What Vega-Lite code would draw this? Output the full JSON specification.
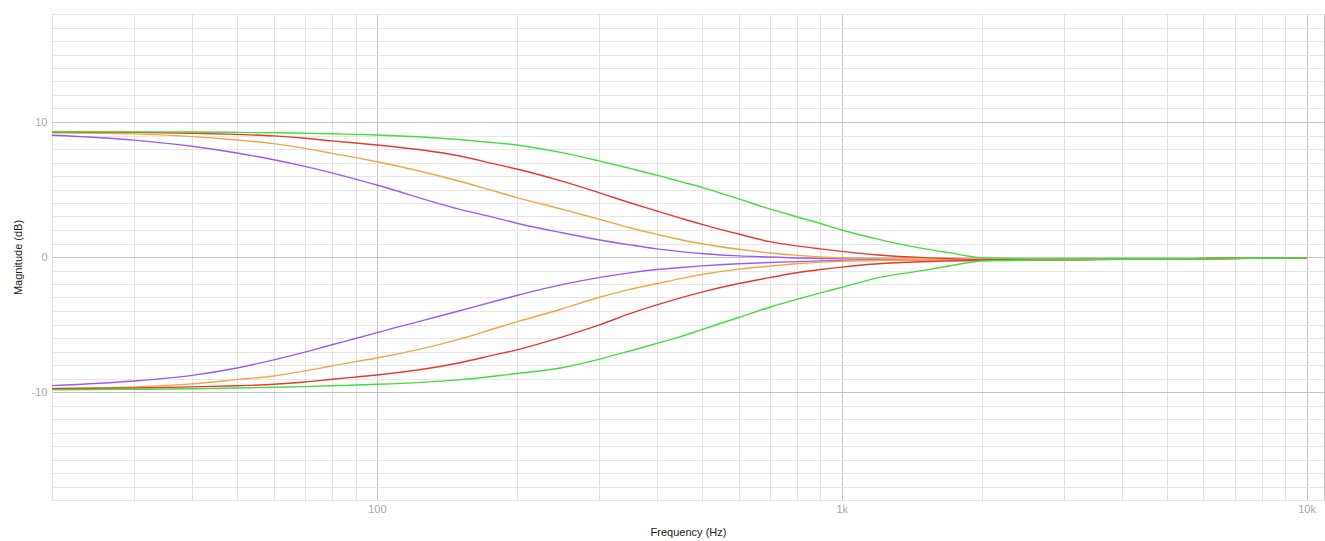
{
  "$schema": "https://vega.github.io/schema/vega-lite/v6.json",
  "width": 1272,
  "height": 486,
  "autosize": {"type": "none"},
  "padding": {"left": 52, "top": 14, "right": 1, "bottom": 41},
  "background": "white",
  "config": {
    "view": {"stroke": "#c4c4c4", "strokeWidth": 1},
    "font": "Liberation Sans"
  },
  "data": {
    "values": [
      {"f": 20, "pB": 9.02, "pC": -9.53, "oB": 9.2, "oC": -9.73, "rB": 9.26, "rC": -9.75, "gB": 9.28, "gC": -9.83},
      {"f": 30, "pB": 8.66, "pC": -9.19, "oB": 9.12, "oC": -9.62, "rB": 9.23, "rC": -9.7, "gB": 9.27, "gC": -9.8},
      {"f": 40, "pB": 8.2, "pC": -8.77, "oB": 8.92, "oC": -9.4, "rB": 9.17, "rC": -9.62, "gB": 9.26, "gC": -9.76},
      {"f": 50, "pB": 7.7, "pC": -8.22, "oB": 8.67, "oC": -9.08, "rB": 9.08, "rC": -9.54, "gB": 9.23, "gC": -9.7},
      {"f": 60, "pB": 7.2, "pC": -7.62, "oB": 8.4, "oC": -8.81, "rB": 8.97, "rC": -9.43, "gB": 9.2, "gC": -9.65},
      {"f": 70, "pB": 6.71, "pC": -7.05, "oB": 8.05, "oC": -8.44, "rB": 8.8, "rC": -9.26, "gB": 9.17, "gC": -9.6},
      {"f": 80, "pB": 6.23, "pC": -6.5, "oB": 7.68, "oC": -8.07, "rB": 8.6, "rC": -9.06, "gB": 9.13, "gC": -9.54},
      {"f": 90, "pB": 5.77, "pC": -6.04, "oB": 7.36, "oC": -7.75, "rB": 8.44, "rC": -8.89, "gB": 9.08, "gC": -9.48},
      {"f": 100, "pB": 5.33, "pC": -5.6, "oB": 7.06, "oC": -7.48, "rB": 8.3, "rC": -8.74, "gB": 9.04, "gC": -9.43},
      {"f": 150, "pB": 3.55, "pC": -4.0, "oB": 5.63, "oC": -6.1, "rB": 7.5, "rC": -7.85, "gB": 8.7, "gC": -9.1},
      {"f": 180, "pB": 2.9, "pC": -3.26, "oB": 4.85, "oC": -5.28, "rB": 6.88, "rC": -7.23, "gB": 8.45, "gC": -8.82},
      {"f": 200, "pB": 2.5, "pC": -2.85, "oB": 4.4, "oC": -4.8, "rB": 6.52, "rC": -6.88, "gB": 8.3, "gC": -8.63},
      {"f": 250, "pB": 1.8, "pC": -2.05, "oB": 3.55, "oC": -3.85, "rB": 5.62, "rC": -5.93, "gB": 7.73, "gC": -8.2},
      {"f": 300, "pB": 1.28, "pC": -1.53, "oB": 2.8, "oC": -3.0, "rB": 4.77, "rC": -5.05, "gB": 7.12, "gC": -7.58},
      {"f": 350, "pB": 0.9, "pC": -1.18, "oB": 2.17, "oC": -2.4, "rB": 4.02, "rC": -4.2, "gB": 6.56, "gC": -6.96},
      {"f": 400, "pB": 0.6, "pC": -0.93, "oB": 1.68, "oC": -1.98, "rB": 3.41, "rC": -3.55, "gB": 6.06, "gC": -6.4},
      {"f": 450, "pB": 0.4, "pC": -0.78, "oB": 1.28, "oC": -1.6, "rB": 2.88, "rC": -3.03, "gB": 5.58, "gC": -5.9},
      {"f": 500, "pB": 0.26, "pC": -0.66, "oB": 0.98, "oC": -1.3, "rB": 2.42, "rC": -2.6, "gB": 5.16, "gC": -5.38},
      {"f": 600, "pB": 0.08, "pC": -0.5, "oB": 0.57, "oC": -0.9, "rB": 1.7, "rC": -1.96, "gB": 4.3, "gC": -4.48},
      {"f": 700, "pB": 0.0, "pC": -0.41, "oB": 0.3, "oC": -0.68, "rB": 1.14, "rC": -1.53, "gB": 3.56, "gC": -3.72},
      {"f": 800, "pB": -0.07, "pC": -0.34, "oB": 0.12, "oC": -0.5, "rB": 0.82, "rC": -1.17, "gB": 2.98, "gC": -3.14},
      {"f": 900, "pB": -0.11, "pC": -0.29, "oB": 0.01, "oC": -0.38, "rB": 0.6, "rC": -0.93, "gB": 2.48, "gC": -2.66},
      {"f": 1000, "pB": -0.14, "pC": -0.26, "oB": -0.05, "oC": -0.31, "rB": 0.42, "rC": -0.75, "gB": 2.0, "gC": -2.25},
      {"f": 1200, "pB": -0.17, "pC": -0.23, "oB": -0.12, "oC": -0.25, "rB": 0.15, "rC": -0.5, "gB": 1.31, "gC": -1.53},
      {"f": 1500, "pB": -0.19, "pC": -0.22, "oB": -0.17, "oC": -0.22, "rB": -0.05, "rC": -0.35, "gB": 0.62, "gC": -0.99},
      {"f": 1700, "pB": -0.2, "pC": -0.21, "oB": -0.19, "oC": -0.21, "rB": -0.12, "rC": -0.3, "gB": 0.32, "gC": -0.67},
      {"f": 2000, "pB": -0.2, "pC": -0.2, "oB": -0.2, "oC": -0.2, "rB": -0.17, "rC": -0.25, "gB": -0.05, "gC": -0.3},
      {"f": 3000, "pB": -0.18, "pC": -0.18, "oB": -0.18, "oC": -0.18, "rB": -0.18, "rC": -0.2, "gB": -0.16, "gC": -0.2},
      {"f": 5000, "pB": -0.15, "pC": -0.15, "oB": -0.15, "oC": -0.15, "rB": -0.15, "rC": -0.15, "gB": -0.15, "gC": -0.15},
      {"f": 10000, "pB": -0.05, "pC": -0.05, "oB": -0.05, "oC": -0.05, "rB": -0.05, "rC": -0.05, "gB": -0.05, "gC": -0.05}
    ]
  },
  "transform": [
    {"fold": ["pB", "pC", "oB", "oC", "rB", "rC", "gB", "gC"], "as": ["curve", "db"]}
  ],
  "mark": {"type": "line", "strokeWidth": 1.4, "interpolate": "monotone"},
  "encoding": {
    "x": {
      "field": "f",
      "type": "quantitative",
      "scale": {"type": "log", "domain": [20, 10900], "nice": false},
      "axis": {
        "values": [20, 30, 40, 50, 60, 70, 80, 90, 100, 200, 300, 400, 500, 600, 700, 800, 900, 1000, 2000, 3000, 4000, 5000, 6000, 7000, 8000, 9000, 10000],
        "labelExpr": "datum.value == 100 ? '100' : datum.value == 1000 ? '1k' : datum.value == 10000 ? '10k' : ''",
        "labelOverlap": false,
        "labelBound": false,
        "labelFlush": false,
        "ticks": false,
        "domain": false,
        "labelColor": "#a8a8a8",
        "labelFontSize": 11,
        "labelPadding": 3,
        "gridColor": {"condition": {"test": "datum.value == 100 || datum.value == 1000 || datum.value == 10000", "value": "#c4c4c4"}, "value": "#e2e2e2"},
        "gridWidth": 1,
        "title": "Frequency (Hz)",
        "titleFontSize": 11,
        "titleFontWeight": "normal",
        "titleColor": "#222222",
        "titlePadding": 12
      }
    },
    "y": {
      "field": "db",
      "type": "quantitative",
      "scale": {"domain": [-18, 18], "nice": false, "zero": false},
      "axis": {
        "values": [-18, -17, -16, -15, -14, -13, -12, -11, -10, -9, -8, -7, -6, -5, -4, -3, -2, -1, 0, 1, 2, 3, 4, 5, 6, 7, 8, 9, 10, 11, 12, 13, 14, 15, 16, 17, 18],
        "labelExpr": "datum.value == 10 ? '10' : datum.value == 0 ? '0' : datum.value == -10 ? '-10' : ''",
        "labelOverlap": false,
        "labelBound": false,
        "labelFlush": false,
        "ticks": false,
        "domain": false,
        "labelColor": "#a8a8a8",
        "labelFontSize": 11,
        "labelPadding": 5,
        "gridColor": {"condition": {"test": "datum.value == 10 || datum.value == 0 || datum.value == -10", "value": "#c4c4c4"}, "value": "#e6e6e6"},
        "gridWidth": 1,
        "title": "Magnitude (dB)",
        "titleFontSize": 11,
        "titleFontWeight": "normal",
        "titleColor": "#222222",
        "titlePadding": 8
      }
    },
    "color": {
      "field": "curve",
      "type": "nominal",
      "scale": {
        "domain": ["pB", "pC", "oB", "oC", "rB", "rC", "gB", "gC"],
        "range": ["#9a5cf6", "#9a5cf6", "#f7a541", "#f7a541", "#e8392c", "#e8392c", "#45dd3f", "#45dd3f"]
      },
      "legend": null
    }
  }
}
